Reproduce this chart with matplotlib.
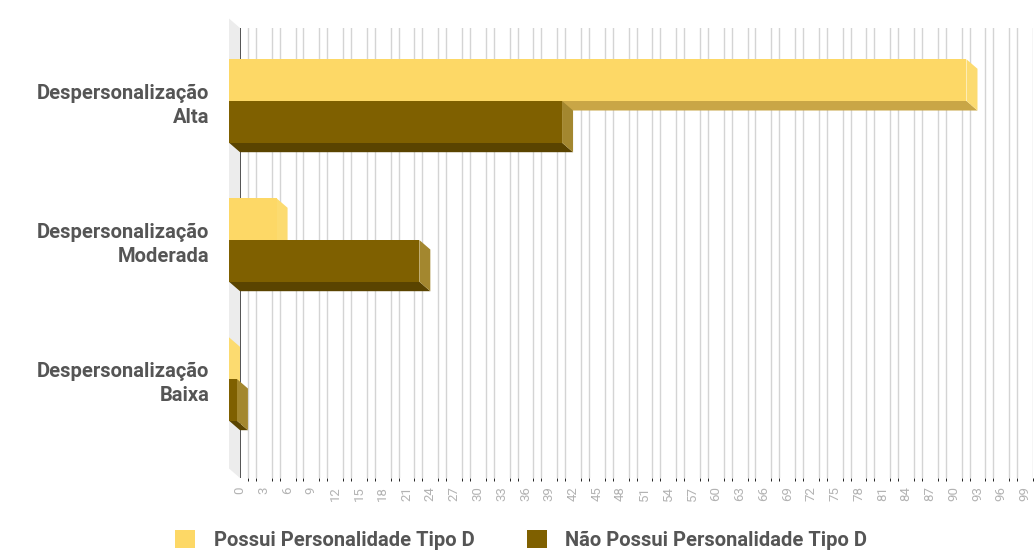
import matplotlib
matplotlib.use('Agg')
import matplotlib.pyplot as plt

plt.rcParams['font.family'] = ['Roboto', 'DejaVu Sans']

categories = ['Despersonalização\nAlta', 'Despersonalização\nModerada', 'Despersonalização\nBaixa']
possui = [93, 6, 0]
nao_possui = [42, 24, 1]
series_names = ['Possui Personalidade Tipo D', 'Não Possui Personalidade Tipo D']
x_ticks = list(range(0, 100, 3))

# colours: front, side, bottom
colors = {
    'possui': ('#fdd866', '#fcdb70', '#c9a646'),
    'nao': ('#7f6000', '#a3872f', '#5a4400'),
}

W, H = 1034, 554
fig = plt.figure(figsize=(W / 100, H / 100), dpi=100)
ax = fig.add_axes([240 / W, (H - 478) / H, 793 / W, 450 / H])

band = 139.0  # px per category
ytop = -73 / band
ax.set_xlim(0, 100)
ax.set_ylim(ytop + 450 / band, ytop)

# 3d depth in data units
dx = 11 / 7.93
dy = 9.5 / band
h = 0.30

# back wall grid
ax.set_xticks(range(0, 101), minor=True)
ax.grid(True, which='minor', axis='x', color='#d4d4d4', lw=1, zorder=0)
ax.grid(False, which='major')
ax.axvline(0, color='#444444', lw=1.3, zorder=1)

# left wall
ax.fill([-dx, 0, 0, -dx], [ytop - dy, ytop, ytop + 450 / band, ytop + 450 / band - dy],
        color='#ececec', zorder=0.5, clip_on=False, lw=0)


def bar3d(y, v, cols, label, z):
    front, side, bottom = cols
    top, bot = y - h / 2, y + h / 2
    ax.fill([-dx, v - dx, v, 0], [bot, bot, bot + dy, bot + dy],
            color=bottom, lw=0, zorder=z, clip_on=False)
    ax.fill([v - dx, v, v, v - dx], [top, top + dy, bot + dy, bot],
            color=side, lw=0, zorder=z, clip_on=False)
    b = ax.barh(y, v, left=-dx, height=h, color=front, lw=0, zorder=z + 0.1,
                label=label, clip_on=False)
    return b


handles = []
for i in range(len(categories)):
    b1 = bar3d(i - h / 2, possui[i], colors['possui'], series_names[0], 2 + i)
    b2 = bar3d(i + h / 2, nao_possui[i], colors['nao'], series_names[1], 2.5 + i)
    if i == 0:
        handles = [b1, b2]

ax.set_yticks(range(len(categories)))
ax.set_yticklabels(categories, fontsize=14.5, fontweight='bold', color='#555555',
                   linespacing=1.3)
ax.set_xticks(x_ticks)
ax.set_xticklabels([str(t) for t in x_ticks], rotation=90, fontsize=9.5, color='#b3b3b3')
ax.tick_params(axis='y', length=0, pad=22)
ax.tick_params(axis='x', length=0, pad=6)
for s in ax.spines.values():
    s.set_visible(False)

fig.legend(handles=handles, labels=series_names, loc='center', bbox_to_anchor=(0.504, 0.026),
           ncol=2, frameon=False, handlelength=1.0, handleheight=1.0, handletextpad=0.9,
           columnspacing=2.6, prop={'size': 14.5, 'weight': 'bold'}, labelcolor='#555555')

fig.savefig('out.png', dpi=100)
